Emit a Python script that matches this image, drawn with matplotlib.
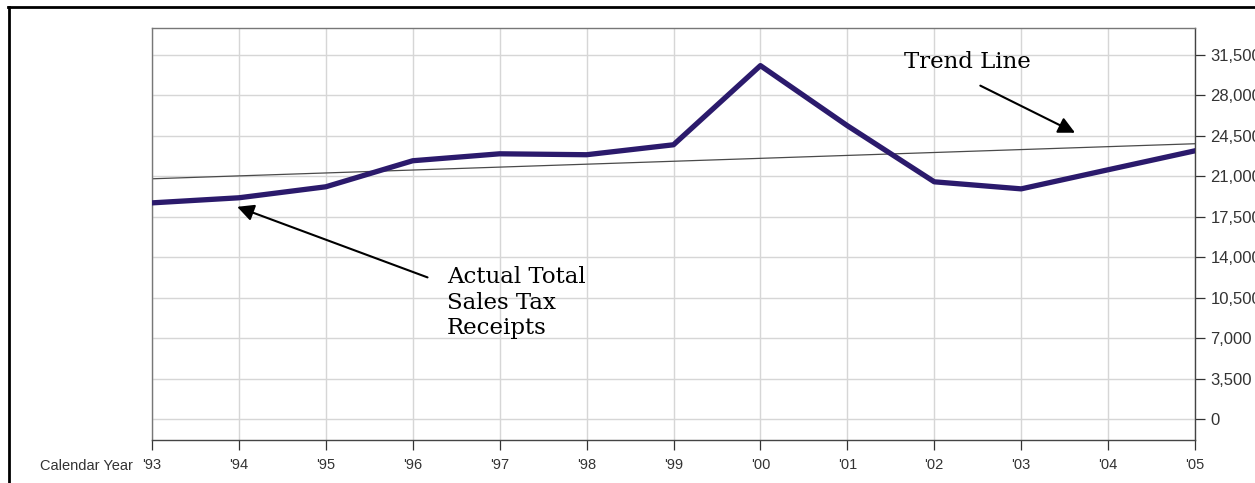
import numpy as np
import matplotlib.pyplot as plt
from matplotlib.lines import Line2D
from matplotlib.ticker import FuncFormatter

#--------- Data --------------
years = ["'93", "'94", "'95", "'96", "'97", "'98", "'99",
         "'00", "'01", "'02", "'03", "'04", "'05"]
receipts = [18690, 19130, 20080, 22330, 22930, 22850, 23710,
            30550, 25360, 20510, 19900, 21550, 23190]
trend_ends = [20770, 23800]
y_ticks = [0, 3500, 7000, 10500, 14000, 17500, 21000, 24500, 28000, 31500]
#-----------------------------

plt.rcParams['font.family'] = ['Liberation Sans', 'DejaVu Sans']

x = np.arange(len(years))

fig = plt.figure(figsize=(12.55, 4.83), dpi=100)
ax = fig.add_axes([152 / 1255, 1 - 440 / 483, (1195 - 152) / 1255, (440 - 28) / 483])

ax.plot(x, receipts, color='#2b1a6c', lw=3.8, solid_joinstyle='round', zorder=3)
ax.plot([x[0], x[-1]], trend_ends, color='#4a4a4a', lw=0.9, zorder=2)

ax.set_xlim(x[0], x[-1])
ax.set_ylim(-1800, 33800)
ax.set_xticks(x)
ax.set_xticklabels(years)
ax.set_yticks(y_ticks)
ax.yaxis.set_major_formatter(FuncFormatter(lambda v, p: f'{int(v):,}'))
ax.yaxis.tick_right()

ax.grid(True, color='#d6d6d6', lw=1.0)
ax.set_axisbelow(True)
ax.tick_params(axis='both', colors='#333333', length=7, width=0.9)
ax.tick_params(axis='x', pad=6, labelsize=10.5)
ax.tick_params(axis='y', pad=4, labelsize=12)

for side in ['left', 'top']:
    ax.spines[side].set_color('#777777')
for side in ['right', 'bottom']:
    ax.spines[side].set_color('#444444')
for sp in ax.spines.values():
    sp.set_linewidth(1.0)

fig.text(40 / 1255, 1 - 466 / 483, 'Calendar Year', fontsize=10.5,
         color='#333333', ha='left', va='center')

# annotations
serif = 'DejaVu Serif'
head = '-|>,head_length=1.0,head_width=0.5'
ax.annotate('', xy=(0.98, 18350), xytext=(3.17, 12250),
            arrowprops=dict(arrowstyle=head, color='black', lw=1.5,
                            shrinkA=0, shrinkB=0))
ax.text(3.39, 10050, 'Actual Total\nSales Tax\nReceipts', family=serif,
        fontsize=16.5, ha='left', va='center', linespacing=1.2)

ax.annotate('', xy=(10.62, 24750), xytext=(9.53, 28820),
            arrowprops=dict(arrowstyle=head, color='black', lw=1.5,
                            shrinkA=0, shrinkB=0))
ax.text(8.65, 30900, 'Trend Line', family=serif, fontsize=16.5,
        ha='left', va='center')

# outer frame (right and bottom edges are cut off)
fig.add_artist(Line2D([9 / 1255, 9 / 1255], [0, 1 - 7 / 483],
                      transform=fig.transFigure, color='black', lw=2))
fig.add_artist(Line2D([8 / 1255, 1], [1 - 7 / 483, 1 - 7 / 483],
                      transform=fig.transFigure, color='black', lw=2))

fig.savefig('out.png', dpi=100)
